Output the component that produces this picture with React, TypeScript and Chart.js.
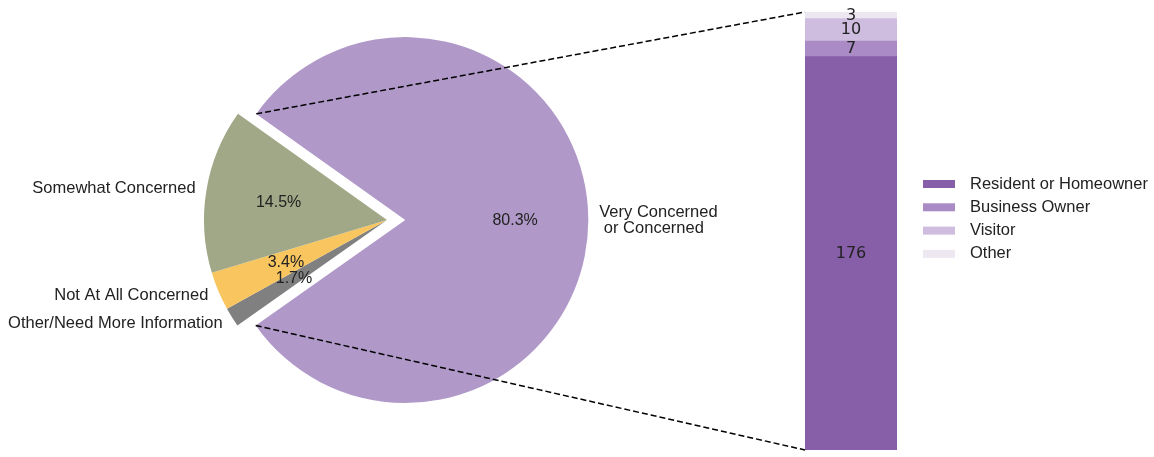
import React, { useEffect, useRef } from "react";
import { Chart, registerables } from "chart.js";

Chart.register(...registerables);

// ---- Pie data (clockwise order as drawn), values are percentages ----
const pieLabels = [
  "Very Concerned\n or Concerned",
  "Other/Need More Information",
  "Not At All Concerned",
  "Somewhat Concerned",
];
const pieValues = [80.3, 1.7, 3.4, 14.5];
const pieColors = ["#b098c8", "#808080", "#f8c55e", "#a1a887"];
const pieExplode = [0.1, 0, 0, 0];

// ---- Bar data (bottom to top) ----
const barLabels = ["Resident or Homeowner", "Business Owner", "Visitor", "Other"];
const barValues = [176, 7, 10, 3];
const barColors = ["#865fa8", "#aa8bc5", "#cebdde", "#ede7f2"];

const W = 1154;
const H = 457;
const TEXT = "#222222";
const SANS = '"Liberation Sans", Arial, sans-serif';

export default function App() {
  const pieRef = useRef<HTMLCanvasElement | null>(null);
  const barRef = useRef<HTMLCanvasElement | null>(null);

  useEffect(() => {
    if (!pieRef.current || !barRef.current) return;

    const explodePlugin = {
      id: "explode",
      beforeDatasetsDraw(chart: any) {
        const ca = chart.chartArea;
        const cx = (ca.left + ca.right) / 2;
        const cy = (ca.top + ca.bottom) / 2;
        const meta = chart.getDatasetMeta(0);
        meta.data.forEach((el: any, i: number) => {
          const mid = (el.startAngle + el.endAngle) / 2;
          const d = (pieExplode[i] || 0) * el.outerRadius;
          el.x = cx + Math.cos(mid) * d;
          el.y = cy + Math.sin(mid) * d;
        });
      },
    };

    const pieLabelPlugin = {
      id: "pieLabels",
      afterDatasetsDraw(chart: any) {
        const ctx = chart.ctx as CanvasRenderingContext2D;
        const meta = chart.getDatasetMeta(0);
        ctx.save();
        ctx.fillStyle = TEXT;
        meta.data.forEach((el: any, i: number) => {
          const mid = (el.startAngle + el.endAngle) / 2;
          const r = el.outerRadius;
          const c = Math.cos(mid);
          const s = Math.sin(mid);
          // percentage
          ctx.font = `16px ${SANS}`;
          ctx.textAlign = "center";
          ctx.textBaseline = "middle";
          const pct = pieValues[i].toFixed(1) + "%";
          ctx.fillText(pct, el.x + c * r * 0.6, el.y + s * r * 0.6);
          // outer label
          ctx.font = `16.5px ${SANS}`;
          ctx.textAlign = c > 0 ? "left" : "right";
          const lx = el.x + c * r * 1.06;
          const ly = el.y + s * r * 1.06;
          const lines = pieLabels[i].split("\n");
          const lh = 16;
          lines.forEach((ln, k) => {
            ctx.fillText(ln, lx, ly + (k - (lines.length - 1) / 2) * lh);
          });
        });
        ctx.restore();
      },
    };

    const pieChart = new Chart(pieRef.current, {
      type: "pie",
      data: {
        labels: pieLabels,
        datasets: [
          {
            data: pieValues,
            backgroundColor: pieColors,
            borderWidth: 0,
          },
        ],
      },
      options: {
        responsive: false,
        animation: false,
        rotation: 90 - (pieValues[0] * 3.6) / 2,
        layout: { padding: { left: 204, right: 584, top: 37, bottom: 54 } },
        plugins: { legend: { display: false }, tooltip: { enabled: false } },
        events: [],
      },
      plugins: [explodePlugin, pieLabelPlugin],
    } as any);

    const total = barValues.reduce((a, b) => a + b, 0);

    const barPlugin = {
      id: "barExtras",
      afterDatasetsDraw(chart: any) {
        const ctx = chart.ctx as CanvasRenderingContext2D;
        ctx.save();
        // value labels
        ctx.fillStyle = TEXT;
        ctx.font = '16px "DejaVu Sans", sans-serif';
        ctx.textAlign = "center";
        ctx.textBaseline = "middle";
        chart.data.datasets.forEach((ds: any, i: number) => {
          const el: any = chart.getDatasetMeta(i).data[0];
          ctx.fillText(String(ds.data[0]), el.x, (el.y + el.base) / 2);
        });
        // legend
        ctx.font = `16.5px ${SANS}`;
        ctx.textAlign = "left";
        chart.data.datasets.forEach((ds: any, i: number) => {
          const y = 184 + i * 23.3;
          ctx.fillStyle = ds.backgroundColor;
          ctx.fillRect(923, y - 4, 32, 8);
          ctx.fillStyle = TEXT;
          ctx.fillText(ds.label, 970, y);
        });
        // connector lines
        const pieEl: any = pieChart.getDatasetMeta(0).data[0];
        const bottomEl: any = chart.getDatasetMeta(0).data[0];
        const topEl: any = chart.getDatasetMeta(chart.data.datasets.length - 1).data[0];
        const left = bottomEl.x - bottomEl.width / 2;
        const r = pieEl.outerRadius;
        const p1 = [pieEl.x + Math.cos(pieEl.startAngle) * r, pieEl.y + Math.sin(pieEl.startAngle) * r];
        const p2 = [pieEl.x + Math.cos(pieEl.endAngle) * r, pieEl.y + Math.sin(pieEl.endAngle) * r];
        ctx.strokeStyle = "#000000";
        ctx.lineWidth = 1.5;
        ctx.setLineDash([6, 3]);
        ctx.beginPath();
        ctx.moveTo(p1[0], p1[1]);
        ctx.lineTo(left, topEl.y);
        ctx.moveTo(p2[0], p2[1]);
        ctx.lineTo(left, bottomEl.base);
        ctx.stroke();
        ctx.restore();
      },
    };

    const barChart = new Chart(barRef.current, {
      type: "bar",
      data: {
        labels: [""],
        datasets: barLabels.map((lab, i) => ({
          label: lab,
          data: [barValues[i]],
          backgroundColor: barColors[i],
          borderWidth: 0,
          categoryPercentage: 1,
          barPercentage: 1,
        })),
      },
      options: {
        responsive: false,
        animation: false,
        layout: { padding: { left: 805, right: 257, top: 12, bottom: 7 } },
        scales: {
          x: { stacked: true, display: false },
          y: { stacked: true, display: false, min: 0, max: total },
        },
        plugins: { legend: { display: false }, tooltip: { enabled: false } },
        events: [],
      },
      plugins: [barPlugin],
    } as any);

    return () => {
      barChart.destroy();
      pieChart.destroy();
    };
  }, []);

  return (
    <div
      style={{
        position: "fixed",
        left: 0,
        top: 0,
        width: W,
        height: H,
        background: "#ffffff",
      }}
    >
      <canvas
        ref={pieRef}
        width={W}
        height={H}
        style={{ position: "absolute", left: 0, top: 0, width: W, height: H }}
      />
      <canvas
        ref={barRef}
        width={W}
        height={H}
        style={{ position: "absolute", left: 0, top: 0, width: W, height: H }}
      />
    </div>
  );
}
